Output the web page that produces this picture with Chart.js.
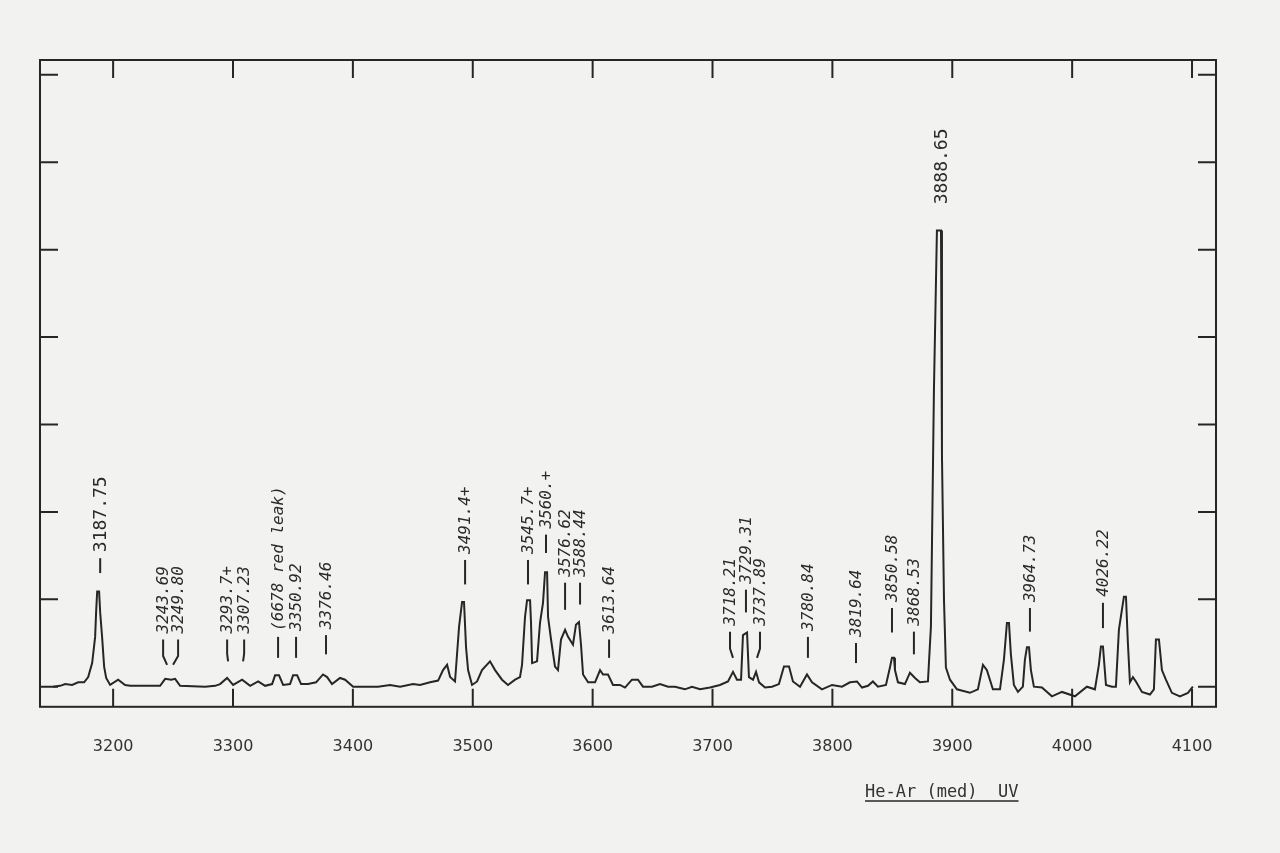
<!DOCTYPE html>
<html>
<head>
<meta charset="utf-8">
<script src="https://cdn.jsdelivr.net/npm/chart.js@4.4.1/dist/chart.umd.min.js"></script>
<style>
  html, body { margin: 0; padding: 0; background: #f2f2f1; }
  #wrap { width: 1280px; height: 853px; }
</style>
</head>
<body>
<div id="wrap"><canvas id="spectrum" width="1280" height="853"></canvas></div>
<script>
// ===== He-Ar (med) UV spectrum =====
const wavelength = [3150.0,3155.8,3160.0,3165.8,3170.8,3175.8,3179.2,3182.5,3185.0,3185.8,3186.7,3188.3,3189.2,3190.8,3192.5,3194.2,3197.5,3204.2,3210.0,3214.2,3239.2,3243.4,3248.4,3251.7,3255.9,3276.7,3285.1,3289.2,3295.1,3300.1,3307.6,3314.3,3321.0,3326.8,3332.6,3335.1,3338.4,3341.8,3347.6,3350.1,3353.5,3356.8,3362.6,3369.3,3375.1,3378.5,3382.6,3389.3,3393.5,3400.2,3421.0,3431.0,3439.4,3450.2,3456.0,3464.4,3471.1,3475.2,3478.6,3481.1,3485.2,3488.6,3491.1,3492.7,3494.4,3496.1,3499.4,3503.6,3507.7,3514.4,3518.6,3524.4,3529.4,3535.3,3539.4,3541.1,3543.6,3545.3,3547.8,3548.6,3549.5,3553.6,3556.1,3558.6,3560.3,3562.0,3562.8,3565.3,3568.6,3571.1,3573.6,3577.0,3579.5,3583.6,3586.1,3588.6,3590.3,3592.0,3596.2,3602.0,3606.2,3608.7,3612.8,3617.0,3622.8,3627.0,3632.8,3637.8,3642.0,3649.5,3656.2,3662.9,3668.7,3677.0,3682.9,3689.6,3697.9,3706.2,3712.9,3717.1,3720.4,3723.8,3725.4,3728.8,3730.4,3733.8,3736.3,3738.8,3743.8,3749.6,3755.4,3759.6,3763.8,3767.1,3773.0,3778.8,3783.0,3791.3,3799.7,3808.0,3814.7,3820.5,3824.7,3829.7,3833.8,3838.0,3844.7,3848.0,3849.7,3851.4,3852.2,3854.7,3860.5,3864.7,3868.9,3873.0,3879.7,3882.2,3884.7,3887.2,3890.6,3891.4,3893.1,3894.7,3898.1,3903.9,3914.7,3921.4,3925.6,3928.9,3933.9,3939.8,3943.1,3945.6,3947.3,3948.9,3951.4,3954.8,3958.9,3960.6,3962.3,3964.0,3965.6,3968.1,3974.8,3983.1,3991.5,4002.3,4012.3,4019.0,4022.3,4024.0,4025.7,4028.2,4033.2,4036.5,4039.0,4041.5,4043.2,4044.9,4046.5,4048.2,4050.7,4053.2,4058.2,4064.9,4068.2,4069.9,4072.4,4074.9,4078.2,4083.2,4089.9,4096.6,4100.7];

const intensity = [0,0.1,0.3,0.2,0.5,0.5,1.1,2.7,5.7,8.5,10.9,10.9,8.5,5.7,2.3,1.0,0.2,0.8,0.2,0.1,0.1,0.9,0.8,0.9,0.1,0,0.1,0.3,1.0,0.2,0.8,0.1,0.6,0.1,0.3,1.3,1.3,0.2,0.3,1.3,1.3,0.3,0.3,0.5,1.4,1.1,0.3,1.0,0.8,0,0,0.2,0,0.3,0.2,0.5,0.7,1.9,2.5,1.1,0.6,6.9,9.7,9.7,4.5,1.9,0.2,0.6,1.9,2.9,1.9,0.8,0.2,0.8,1.1,2.5,8.0,9.9,9.9,7.3,2.7,2.9,7.3,9.6,13.1,13.1,8.0,5.4,2.3,1.9,5.4,6.5,5.7,4.8,7.1,7.4,4.8,1.4,0.5,0.5,1.9,1.4,1.4,0.2,0.2,-0.1,0.8,0.8,0,0,0.3,0,0,-0.3,0,-0.3,-0.1,0.2,0.6,1.7,0.8,0.8,5.9,6.2,1.1,0.8,1.7,0.5,-0.1,0,0.3,2.3,2.3,0.6,0,1.4,0.5,-0.3,0.2,0,0.5,0.6,-0.1,0.1,0.6,0,0.2,2.2,3.3,3.3,1.9,0.5,0.3,1.6,1.0,0.5,0.6,6.9,33.9,52.2,52.2,26.5,9.9,2.2,0.8,-0.3,-0.7,-0.3,2.5,1.9,-0.3,-0.3,3.1,7.3,7.3,3.7,0.2,-0.6,0,3.1,4.5,4.5,1.9,0,-0.1,-1.1,-0.6,-1.1,0,-0.3,2.5,4.6,4.6,0.2,0,0,6.5,8.8,10.3,10.3,5.0,0.5,1.1,0.6,-0.6,-0.9,-0.3,5.4,5.4,1.9,0.8,-0.7,-1.1,-0.7,0];

const xTickValues = [3200, 3300, 3400, 3500, 3600, 3700, 3800, 3900, 4000, 4100];
const yTickValues = [0, 10, 20, 30, 40, 50, 60, 70];

// line identifications: label, wavelength of text/marker top, of marker foot, marker bottom / top
const lineLabels = ["3187.75","3243.69","3249.80","3293.7+","3307.23","(6678 red leak)","3350.92","3376.46",
  "3491.4+","3545.7+","3560.+","3576.62","3588.44","3613.64","3718.21","3729.31","3737.89","3780.84",
  "3819.64","3850.58","3868.53","3888.65","3964.73","4026.22"];
const labelAt = [3189.2,3241.7,3254.2,3295.1,3309.3,3337.6,3352.6,3377.6,3493.6,3546.1,3561.1,3577.0,
  3589.5,3613.7,3714.6,3727.9,3739.6,3779.6,3819.7,3849.7,3868.0,3890.5,3964.8,4025.7];
const footAt = [3189.2,3245.0,3250.0,3295.9,3308.4,3337.6,3352.6,3377.6,3493.6,3546.1,3561.1,3577.0,
  3589.5,3613.7,3717.1,3727.9,3737.1,3779.6,3819.7,3849.7,3868.0,3890.5,3964.8,4025.7];
const markLow = [13.0,2.5,2.5,2.9,2.9,3.3,3.3,3.7,11.7,11.7,15.3,8.8,9.4,3.3,3.3,8.5,3.3,3.3,2.7,6.2,3.7,54.5,6.3,6.7];
const markHigh = [14.7,5.4,5.4,5.4,5.4,5.7,5.7,5.9,14.5,14.5,17.4,11.9,11.9,5.4,6.3,11.1,6.3,5.7,5.0,9.0,6.3,54.5,9.0,9.6];
const uprightLabels = ["3187.75", "3888.65"];

const ink = "#262626";

// frame with inward tick marks on all four sides
const framePlugin = {
  id: "frame",
  afterDraw(chart) {
    const { ctx, chartArea: a, scales } = chart;
    ctx.save();
    ctx.strokeStyle = ink;
    ctx.lineWidth = 2;
    ctx.strokeRect(a.left, a.top, a.right - a.left, a.bottom - a.top);
    const len = 18;
    ctx.beginPath();
    scales.x.ticks.forEach(t => {
      const px = scales.x.getPixelForValue(t.value);
      ctx.moveTo(px, a.bottom); ctx.lineTo(px, a.bottom - len);
      ctx.moveTo(px, a.top); ctx.lineTo(px, a.top + len);
    });
    scales.y.ticks.forEach(t => {
      const py = scales.y.getPixelForValue(t.value);
      ctx.moveTo(a.left, py); ctx.lineTo(a.left + len, py);
      ctx.moveTo(a.right, py); ctx.lineTo(a.right - len, py);
    });
    ctx.stroke();

    // caption
    ctx.fillStyle = "#333";
    ctx.font = "17px 'DejaVu Sans Mono'";
    ctx.textBaseline = "alphabetic";
    ctx.textAlign = "left";
    const cap = "He-Ar (med)  UV";
    const cx = 865, cy = 797;
    ctx.fillText(cap, cx, cy);
    const w = ctx.measureText(cap).width;
    ctx.lineWidth = 1.5;
    ctx.beginPath();
    ctx.moveTo(cx, cy + 4); ctx.lineTo(cx + w, cy + 4);
    ctx.stroke();
    ctx.restore();
  }
};

// vertical line identifications
const labelPlugin = {
  id: "lineLabels",
  afterDatasetsDraw(chart) {
    const { ctx, scales } = chart;
    ctx.save();
    ctx.strokeStyle = ink;
    ctx.fillStyle = "#2a2a2a";
    ctx.lineWidth = 2;
    lineLabels.forEach((txt, i) => {
      const px = scales.x.getPixelForValue(labelAt[i]);
      const fx = scales.x.getPixelForValue(footAt[i]);
      const lo = scales.y.getPixelForValue(markLow[i]);
      const hi = scales.y.getPixelForValue(markHigh[i]);
      if (lo - hi > 1) {
        const bend = lo - (lo - hi) * 0.35;
        ctx.beginPath();
        ctx.moveTo(px, hi);
        ctx.lineTo(px, bend);
        ctx.lineTo(fx, lo);
        ctx.stroke();
      }
      const upright = uprightLabels.includes(txt);
      ctx.font = upright ? "18px 'DejaVu Sans Mono'" : "italic 16px 'DejaVu Sans Mono'";
      ctx.save();
      ctx.translate(px, hi - 6);
      ctx.rotate(-Math.PI / 2);
      ctx.textAlign = "left";
      ctx.textBaseline = "middle";
      ctx.fillText(txt, 0, 1);
      ctx.restore();
    });
    ctx.restore();
  }
};

const ctx = document.getElementById("spectrum").getContext("2d");

new Chart(ctx, {
  type: "line",
  data: {
    datasets: [{
      data: wavelength.map((w, i) => ({ x: w, y: intensity[i] })),
      borderColor: ink,
      borderWidth: 2,
      pointRadius: 0,
      tension: 0,
      fill: false
    }]
  },
  options: {
    responsive: false,
    animation: false,
    layout: { padding: { left: 40, right: 64, top: 60, bottom: 67 } },
    plugins: {
      legend: { display: false },
      tooltip: { enabled: false }
    },
    scales: {
      x: {
        type: "linear",
        min: 3139,
        max: 4120,
        afterBuildTicks: s => { s.ticks = xTickValues.map(v => ({ value: v })); },
        grid: { display: false, drawTicks: false },
        border: { display: false },
        ticks: {
          padding: 30,
          color: "#333",
          font: { family: "DejaVu Sans", size: 16 },
          callback: v => String(v)
        }
      },
      y: {
        min: -2.3,
        max: 71.7,
        afterBuildTicks: s => { s.ticks = yTickValues.map(v => ({ value: v })); },
        grid: { display: false, drawTicks: false },
        border: { display: false },
        ticks: { display: false }
      }
    }
  },
  plugins: [framePlugin, labelPlugin]
});
</script>
</body>
</html>
